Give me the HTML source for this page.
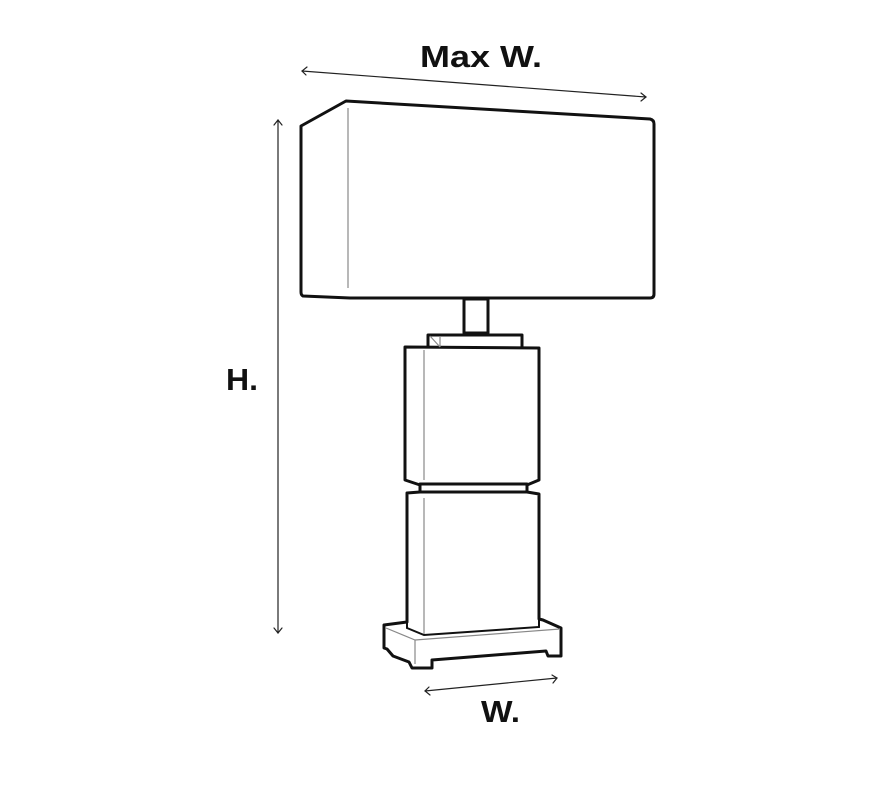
<!DOCTYPE html>
<html><head><meta charset="utf-8"><style>
html,body{margin:0;padding:0;background:#fff;}
svg{display:block;}
text{font-family:"Liberation Sans",sans-serif;font-weight:bold;fill:#111;}
</style></head><body>
<svg width="882" height="794" viewBox="0 0 882 794" xmlns="http://www.w3.org/2000/svg">
<g fill="none" stroke="#222" stroke-width="1.2" stroke-linecap="round">
<line x1="302" y1="71" x2="646" y2="97"/>
<polyline points="307,67 302,71 306,75"/>
<polyline points="641,93 646,97 641,101"/>
<line x1="278" y1="120" x2="278" y2="633"/>
<polyline points="274,125 278,120 282,125"/>
<polyline points="274,628 278,633 282,628"/>
<line x1="425" y1="691" x2="557" y2="678"/>
<polyline points="429,687 425,691 430,695"/>
<polyline points="552,675 557,678 553,683"/>
</g>
<g fill="#fff" stroke="#111" stroke-width="3" stroke-linejoin="round">
<path d="M301,126 L346,101 L650,119 Q654,120 654,124 L654,294 Q654,298 650,298 L350,298 L303,296 Q301,295 301,292 Z"/>
<rect x="464" y="299" width="24" height="34"/>
<rect x="428" y="335" width="94" height="13"/>
<path d="M405,347 L539,348 L539,480 L527,485 L420,485 L405,480 Z"/>
<rect x="420" y="484" width="107" height="13"/>
<path d="M384,625 L407,622 L407,493 L420,492 L527,492 L539,494 L539,619 L543,620 L561,628 L561,656 L548,656 L546,651 L432,660 L432,668 L412,668 L409,662 L393,656 L387,649 L384,648 Z"/>
</g>
<g stroke="#111" stroke-width="2" fill="none">
<path d="M407,622 L407,628 L424,635 L539,627 L539,619"/>
</g>
<g stroke="#888" stroke-width="1.2" fill="none">
<line x1="348" y1="108" x2="348" y2="288"/>
<line x1="424" y1="350" x2="424" y2="480"/>
<line x1="424" y1="498" x2="424" y2="634"/>
<line x1="430" y1="336" x2="440" y2="347"/>
<line x1="440" y1="336" x2="440" y2="347"/>
<line x1="386" y1="628" x2="415" y2="640"/>
<line x1="415" y1="640" x2="560" y2="629"/>
<line x1="415" y1="640" x2="415" y2="664"/>
</g>
<text x="420" y="67" font-size="31" textLength="122" lengthAdjust="spacingAndGlyphs">Max W.</text>
<text x="226" y="390" font-size="31" textLength="32" lengthAdjust="spacingAndGlyphs">H.</text>
<text x="481" y="722" font-size="31" textLength="39" lengthAdjust="spacingAndGlyphs">W.</text>
</svg>
</body></html>
